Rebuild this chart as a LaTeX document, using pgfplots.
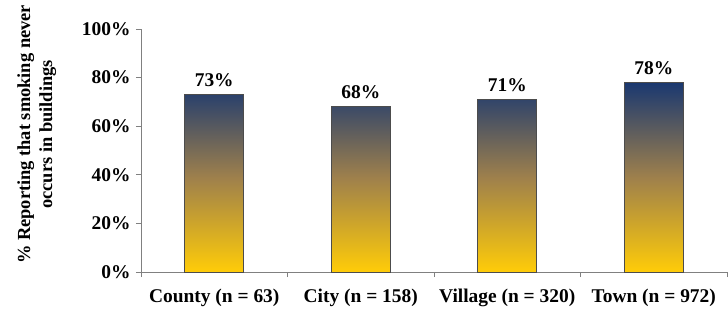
\documentclass[border=0pt]{standalone}
\usepackage{pgfplots}
\pgfplotsset{compat=1.18}
\usepackage{fontspec}
\setmainfont{Liberation Serif}
\definecolor{navytop}{RGB}{26,56,112}
\definecolor{midbrown}{RGB}{158,128,76}
\definecolor{yellowbot}{RGB}{255,204,8}
\definecolor{axgray}{RGB}{128,128,128}
\begin{document}
\begin{tikzpicture}
\path[use as bounding box] (-141bp,-44bp) rectangle (587bp,272bp);
\begin{axis}[
  at={(0,0)}, anchor=south west,
  scale only axis,
  width=586bp, height=243bp,
  xmin=-0.5, xmax=3.5,
  ymin=0, ymax=100,
  axis x line=bottom, axis y line=left,
  axis line style={axgray, line width=0.8bp, -},
  xtick={0,1,2,3},
  xticklabels={County (n = 63),City (n = 158),Village (n = 320),Town (n = 972)},
  major x tick style={draw=none},
  minor xtick={-0.5,0.5,1.5,2.5,3.5},
  minor x tick style={axgray, line width=0.8bp},
  minor tick length=5bp,
  ytick={0,20,40,60,80,100},
  yticklabels={0\%,20\%,40\%,60\%,80\%,100\%},
  major y tick style={axgray, line width=0.8bp},
  major tick length=5bp,
  tick align=outside,
  tick pos=left,
  ticklabel style={font=\fontsize{19.5}{22}\selectfont\bfseries},
  xticklabel style={yshift=-8bp},
  yticklabel style={xshift=-2bp},
  ylabel={\% Reporting that smoking never\\occurs in buildings},
  ylabel style={font=\fontsize{18.5}{22}\selectfont\bfseries, align=center,
    at={(axis description cs:-0.1780,0.566)}, anchor=center},
  ybar, bar width=59bp,
  /pgf/number format/assume math mode=true,
  nodes near coords={\pgfmathprintnumber{\pgfplotspointmeta}\%},
  nodes near coords style={font=\fontsize{19.5}{22}\selectfont\bfseries, yshift=4bp},
  clip=false,
]
\addplot[draw=black!70, line width=0.6bp, shade, top color=navytop, bottom color=yellowbot, middle color=midbrown]
  coordinates {(0,73) (1,68) (2,71) (3,78)};
\end{axis}
\end{tikzpicture}
\end{document}
